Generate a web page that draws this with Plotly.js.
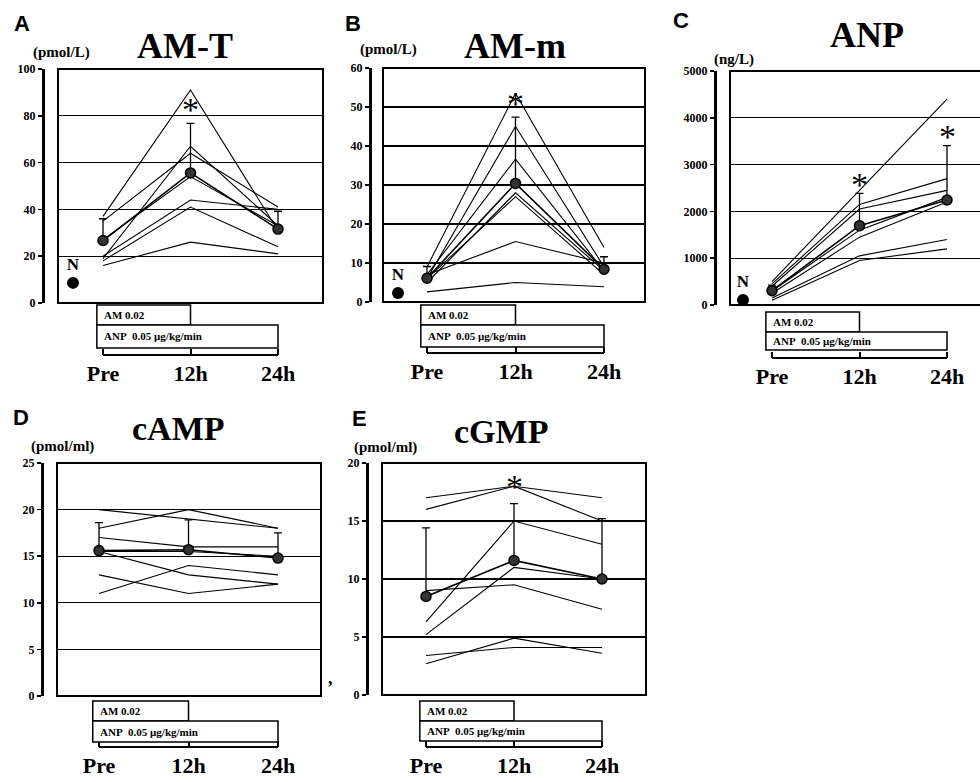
<!DOCTYPE html>
<html>
<head>
<meta charset="utf-8">
<script src="https://cdn.plot.ly/plotly-3.0.1.min.js"></script>
<style>
html,body{margin:0;padding:0;background:#fff;}
#chart{width:980px;height:782px;}
</style>
</head>
<body>
<div id="chart"></div>
<script>
// ---------------- DATA ----------------
const timeLabels = ['Pre', '12h', '24h'];
const timeX = [0, 1, 2];

// Panel A: AM-T (pmol/L)
const amtSubjects = [[37, 91, 31], [35, 64, 41], [27, 54, 33], [19, 67, 33], [20, 44, 40], [18, 41, 24], [16, 26, 21]];
const amtMean = [26.7, 55.6, 31.6];
const amtErr = [9.3, 21.2, 7.6];
const amtNormal = 8.6;
const amtSigX = [1];
const amtSigY = [86];
const amtTicks = [0, 20, 40, 60, 80, 100];

// Panel B: AM-m (pmol/L)
const ammSubjects = [[9, 53.5, 14], [6, 45, 9], [7, 36.6, 8], [5, 28, 8], [6, 27, 7], [7, 15.5, 10], [2.6, 5, 3.9]];
const ammMean = [6.1, 30.4, 8.4];
const ammErr = [3, 17, 3.2];
const ammNormal = 2.3;
const ammSigX = [1];
const ammSigY = [53];
const ammTicks = [0, 10, 20, 30, 40, 50, 60];

// Panel C: ANP (ng/L)
const anpSubjects = [[500, 2450, 4400], [450, 2150, 2700], [400, 2050, 2450], [300, 1600, 2300], [250, 1450, 2200], [150, 1050, 1400], [100, 950, 1200]];
const anpMean = [306, 1695, 2244];
const anpErr = [120, 690, 1160];
const anpNormal = 107;
const anpSigX = [1, 2];
const anpSigY = [2735, 3780];
const anpTicks = [0, 1000, 2000, 3000, 4000, 5000];

// Panel D: cAMP (pmol/ml)
const campSubjects = [[20, 19, 18], [18, 20, 18], [17, 16, 16], [15.5, 15.5, 15], [15.5, 13, 12], [13, 11, 12], [11, 14, 13]];
const campMean = [15.6, 15.7, 14.8];
const campErr = [3, 3.2, 2.7];
const campTicks = [0, 5, 10, 15, 20, 25];

// Panel E: cGMP (pmol/ml)
const cgmpSubjects = [[17, 18, 17], [16, 18, 15], [6.3, 15, 13], [5.2, 11, 10], [9, 9.5, 7.4], [3.4, 4.1, 4.1], [2.7, 4.9, 3.6]];
const cgmpMean = [8.5, 11.6, 10];
const cgmpErr = [5.9, 4.9, 5.2];
const cgmpSigX = [1];
const cgmpSigY = [18.7];
const cgmpTicks = [0, 5, 10, 15, 20];

const normalLabel = 'N';
const sigLabel = '*';
const boxLabelAM = 'AM 0.02';
const boxLabelANP = 'ANP&nbsp;&nbsp;0.05 μg/kg/min';

// ---------------- LAYOUT CONFIG (pixels) ----------------
const W = 980, H = 782;
const panels = [
  {letter: 'A', title: 'AM-T', unit: '(pmol/L)', subj: amtSubjects, mean: amtMean, err: amtErr, normal: amtNormal, sigX: amtSigX, sigY: amtSigY, ticks: amtTicks, ymax: 100,
   frame: [58, 323, 69, 303], axisX: 43, prePx: 103, endPx: 278, boxY: [305, 325, 348], lineY: 355,
   letterPos: [22, 24], titlePos: [185, 46], unitPos: [62, 52], normPx: 73},
  {letter: 'B', title: 'AM-m', unit: '(pmol/L)', subj: ammSubjects, mean: ammMean, err: ammErr, normal: ammNormal, sigX: ammSigX, sigY: ammSigY, ticks: ammTicks, ymax: 60,
   frame: [383, 645, 68, 302], axisX: 370, prePx: 427, endPx: 604, boxY: [305, 325, 347], lineY: 353,
   letterPos: [353, 24], titlePos: [515, 46], unitPos: [388, 50], normPx: 398},
  {letter: 'C', title: 'ANP', unit: '(ng/L)', subj: anpSubjects, mean: anpMean, err: anpErr, normal: anpNormal, sigX: anpSigX, sigY: anpSigY, ticks: anpTicks, ymax: 5000,
   frame: [730, 980, 71, 305], axisX: 715, prePx: 772, endPx: 947, boxY: [312, 332, 350], lineY: 358, openRight: true,
   letterPos: [681, 21], titlePos: [867, 35], unitPos: [734, 60], normPx: 743},
  {letter: 'D', title: 'cAMP', unit: '(pmol/ml)', subj: campSubjects, mean: campMean, err: campErr, normal: null, sigX: [], sigY: [], ticks: campTicks, ymax: 25,
   frame: [57, 321, 463, 696], axisX: 42, prePx: 99, endPx: 278, boxY: [701, 721, 742], lineY: 747,
   letterPos: [21, 417], titlePos: [178, 428], unitPos: [63, 446]},
  {letter: 'E', title: 'cGMP', unit: '(pmol/ml)', subj: cgmpSubjects, mean: cgmpMean, err: cgmpErr, normal: null, sigX: cgmpSigX, sigY: cgmpSigY, ticks: cgmpTicks, ymax: 20,
   frame: [382, 646, 463, 695], axisX: 367, prePx: 426, endPx: 602, boxY: [701, 721, 741], lineY: 747,
   letterPos: [359, 418], titlePos: [501, 431], unitPos: [385, 447]}
];

const fx = px => px / W;
const fy = py => 1 - py / H;
const SERIF = 'Liberation Serif, Times New Roman, serif';
const SANS = 'Liberation Sans, Arial, sans-serif';

const traces = [];
const layout = {
  width: W, height: H,
  margin: {l: 0, r: 0, t: 0, b: 0},
  paper_bgcolor: '#fff', plot_bgcolor: 'rgba(0,0,0,0)',
  showlegend: false,
  shapes: [], annotations: []
};

panels.forEach((p, i) => {
  const n = i + 1;
  const xa = 'x' + n, ya = 'y' + n;
  const xk = 'xaxis' + n, yk = 'yaxis' + n;
  const [L, R, T, B] = p.frame;
  const unit = (p.endPx - p.prePx) / 2;
  const xmin = -(p.prePx - L) / unit;
  const xmax = 2 + (R - p.endPx) / unit;

  layout[xk] = {
    domain: [fx(L), fx(R)], range: [xmin, xmax], anchor: 'free', position: fy(p.lineY),
    showgrid: false, zeroline: false, showline: false,
    tickmode: 'array', tickvals: timeX, ticktext: timeLabels,
    ticks: 'inside', ticklen: 6, tickwidth: 2, tickcolor: '#000',
    ticklabelstandoff: 3,
    tickfont: {family: SERIF, size: 22, color: '#000', weight: 'bold'},
    fixedrange: true
  };
  layout[yk] = {
    domain: [fy(B), fy(T)], range: [0, p.ymax], anchor: 'free', position: fx(p.axisX),
    showgrid: true, gridcolor: '#000', gridwidth: 1.3, zeroline: false,
    showline: true, linecolor: '#000', linewidth: 2.5,
    tickmode: 'array', tickvals: p.ticks,
    ticks: 'outside', ticklen: 4, tickwidth: 1.5, tickcolor: '#000',
    tickfont: {family: SERIF, size: 12, color: '#000', weight: 'bold'},
    fixedrange: true
  };

  // individual subjects
  p.subj.forEach(s => {
    traces.push({x: timeX, y: s, xaxis: xa, yaxis: ya, type: 'scatter', mode: 'lines',
      line: {color: '#000', width: 1.1}, hoverinfo: 'skip'});
  });
  // mean ± SD
  traces.push({x: timeX, y: p.mean, xaxis: xa, yaxis: ya, type: 'scatter', mode: 'lines+markers',
    line: {color: '#000', width: 1.6},
    marker: {symbol: 'circle', size: 10, color: '#333', line: {color: '#000', width: 1.5}},
    error_y: {type: 'data', symmetric: false, array: p.err, arrayminus: p.err.map(() => 0),
      color: '#000', thickness: 1.3, width: 4}});
  // normal value
  if (p.normal !== null) {
    const nx = -(p.prePx - p.normPx) / unit;
    traces.push({x: [nx], y: [p.normal], xaxis: xa, yaxis: ya, type: 'scatter', mode: 'markers+text',
      text: [normalLabel], textposition: 'top center',
      textfont: {family: SERIF, size: 17, color: '#000', weight: 'bold'},
      marker: {size: 12, color: '#000'}, cliponaxis: false});
  }
  // significance marks
  p.sigX.forEach((sx, k) => {
    layout.annotations.push({xref: xa, yref: ya, x: sx, y: p.sigY[k], text: sigLabel, showarrow: false,
      xanchor: 'center', yanchor: 'middle', yshift: -8,
      font: {family: SERIF, size: 34, color: '#000'}});
  });

  // frame
  if (p.openRight) {
    layout.shapes.push({type: 'path', xref: xa + ' domain', yref: ya + ' domain',
      path: 'M 1.1 1 L 0 1 L 0 0 L 1.1 0', line: {color: '#000', width: 2}});
  } else {
    layout.shapes.push({type: 'rect', xref: xa + ' domain', yref: ya + ' domain',
      x0: 0, x1: 1, y0: 0, y1: 1, line: {color: '#000', width: 2}});
  }
  // treatment boxes
  const bx0 = -0.07;
  layout.shapes.push({type: 'rect', xref: xa, yref: 'paper', x0: bx0, x1: 1, y0: fy(p.boxY[1]), y1: fy(p.boxY[0]),
    line: {color: '#000', width: 1.5}, fillcolor: '#fff'});
  layout.shapes.push({type: 'rect', xref: xa, yref: 'paper', x0: bx0, x1: 2, y0: fy(p.boxY[2]), y1: fy(p.boxY[1]),
    line: {color: '#000', width: 1.5}, fillcolor: '#fff'});
  // time axis line under the boxes
  layout.shapes.push({type: 'line', xref: xa, yref: 'paper', x0: 0, x1: 2, y0: fy(p.lineY), y1: fy(p.lineY),
    line: {color: '#000', width: 2}});

  layout.annotations.push({xref: xa, yref: 'paper', x: bx0 + 0.06, y: fy((p.boxY[0] + p.boxY[1]) / 2),
    text: boxLabelAM, showarrow: false, xanchor: 'left', yanchor: 'middle',
    font: {family: SERIF, size: 11, color: '#000', weight: 'bold'}});
  layout.annotations.push({xref: xa, yref: 'paper', x: bx0 + 0.06, y: fy((p.boxY[1] + p.boxY[2]) / 2),
    text: boxLabelANP, showarrow: false, xanchor: 'left', yanchor: 'middle',
    font: {family: SERIF, size: 11, color: '#000', weight: 'bold'}});

  // titles
  layout.annotations.push({xref: 'paper', yref: 'paper', x: fx(p.letterPos[0]), y: fy(p.letterPos[1]),
    text: p.letter, showarrow: false, xanchor: 'center', yanchor: 'middle',
    font: {family: SANS, size: 22, color: '#000', weight: 'bold'}});
  layout.annotations.push({xref: 'paper', yref: 'paper', x: fx(p.titlePos[0]), y: fy(p.titlePos[1]),
    text: p.title, showarrow: false, xanchor: 'center', yanchor: 'middle',
    font: {family: SERIF, size: (i >= 3 ? 34 : 36), color: '#000', weight: 'bold'}});
  layout.annotations.push({xref: 'paper', yref: 'paper', x: fx(p.unitPos[0]), y: fy(p.unitPos[1]),
    text: p.unit, showarrow: false, xanchor: 'center', yanchor: 'middle',
    font: {family: SERIF, size: 15, color: '#000', weight: 'bold'}});
});

// stray mark from the original scan
layout.annotations.push({xref: 'paper', yref: 'paper', x: fx(330), y: fy(690), text: ',', showarrow: false,
  font: {family: SERIF, size: 18, color: '#000', weight: 'bold'}});

Plotly.newPlot('chart', traces, layout, {staticPlot: true, displayModeBar: false});
</script>
</body>
</html>
